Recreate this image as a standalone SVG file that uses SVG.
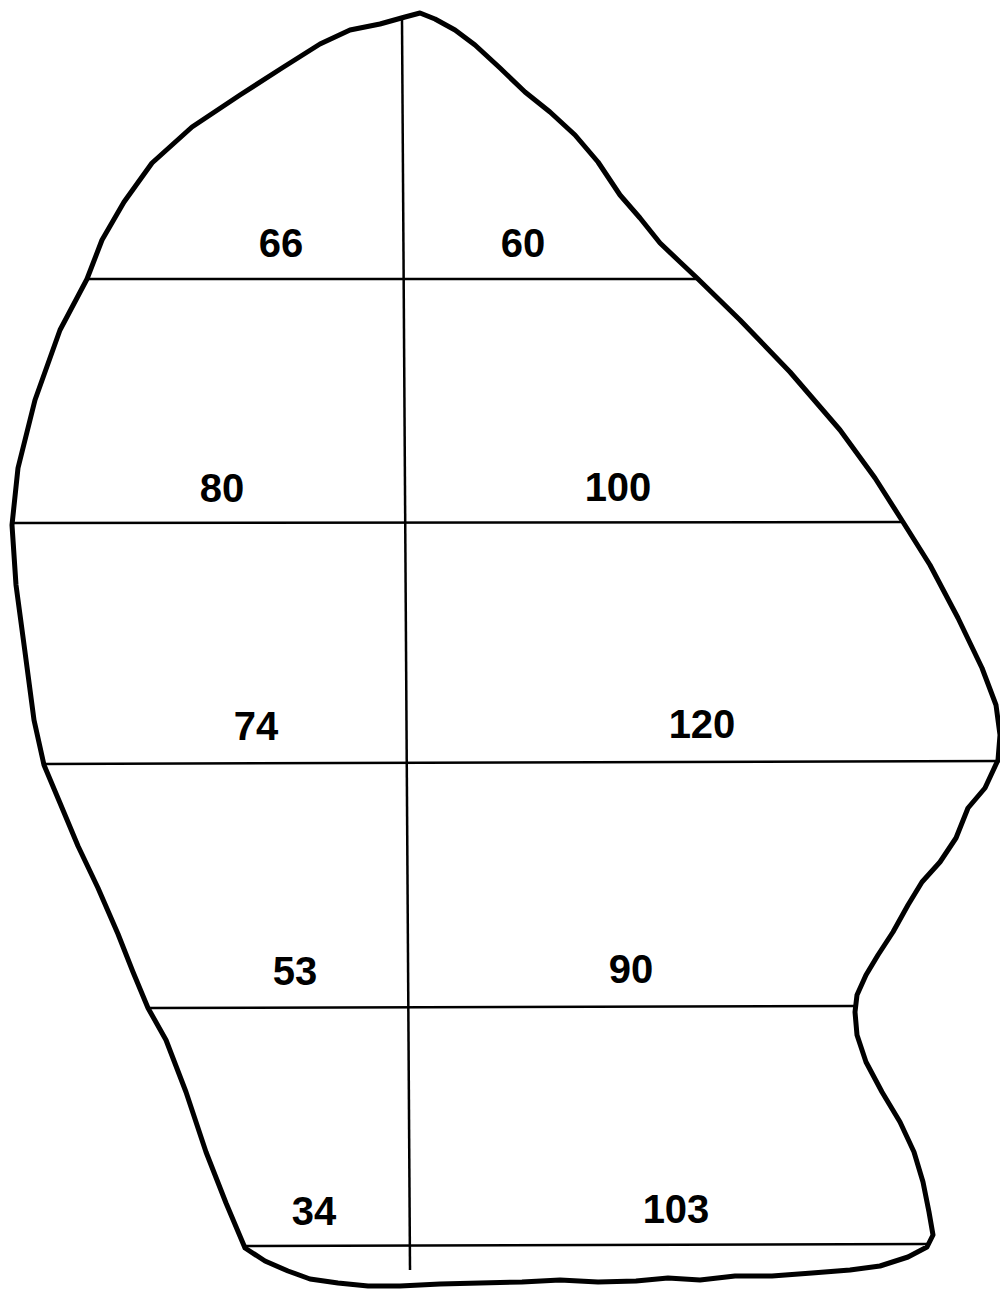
<svg xmlns="http://www.w3.org/2000/svg" width="1000" height="1292" viewBox="0 0 1000 1292">
<style>
.outline{fill:none;stroke:#000;stroke-width:5;stroke-linejoin:round;stroke-linecap:round}
.grid{fill:none;stroke:#000;stroke-width:2.5}
.lbl{font-family:"Liberation Sans",Arial,sans-serif;font-weight:bold;font-size:40px;text-anchor:middle;fill:#000}
</style>
<rect width="1000" height="1292" fill="#fff"/>
<g id="outline">
<path class="outline" d="M405,17 L420,13 L435,19 L455,30 L475,45 L500,68 L525,92 L550,112 L575,135 L598,162 L620,195 L640,218 L660,243 L680,262 L697,278 L740,320 L790,372 L840,430 L875,478 L903,522 L930,565 L958,618 L982,668 L996,705 L1000,735 L998,760 L985,788 L968,808 L956,838 L940,862 L922,882 L908,905 L893,932 L878,955 L866,975 L857,995 L855,1012 L857,1035 L866,1062 L882,1092 L900,1122 L914,1152 L923,1182 L929,1212 L933,1235 L927,1247 L908,1257 L880,1266 L850,1270 L812,1273 L772,1276 L735,1276 L700,1280 L668,1278 L636,1281 L598,1282 L560,1280 L522,1282 L480,1283 L440,1284 L400,1286 L368,1286 L338,1283 L310,1279 L288,1271 L265,1261 L245,1248 L226,1203 L206,1152 L186,1092 L166,1040 L148,1008 L133,972 L118,934 L98,888 L78,846 L60,803 L44,765 L34,720 L25,652 L16,585 L12,525 L18,468 L35,400 L60,330 L87,279 L102,240 L124,202 L152,163 L192,127 L240,95 L282,68 L320,44 L350,30 L380,24 Z"/>
</g>
<g id="connectors">
<line class="grid" x1="402" y1="20" x2="410" y2="1270"/>
<line class="grid" x1="87" y1="279" x2="697" y2="279"/>
<line class="grid" x1="12" y1="523" x2="903" y2="522"/>
<line class="grid" x1="43" y1="764" x2="1000" y2="761"/>
<line class="grid" x1="148" y1="1008" x2="855" y2="1006"/>
<line class="grid" x1="243" y1="1246" x2="928" y2="1244"/>
</g>
<g id="labels">
<text class="lbl" x="281" y="257">66</text>
<text class="lbl" x="523" y="257">60</text>
<text class="lbl" x="222" y="502">80</text>
<text class="lbl" x="618" y="501">100</text>
<text class="lbl" x="256" y="740">74</text>
<text class="lbl" x="702" y="738">120</text>
<text class="lbl" x="295" y="985">53</text>
<text class="lbl" x="631" y="983">90</text>
<text class="lbl" x="314" y="1225">34</text>
<text class="lbl" x="676" y="1223">103</text>
</g>
</svg>
